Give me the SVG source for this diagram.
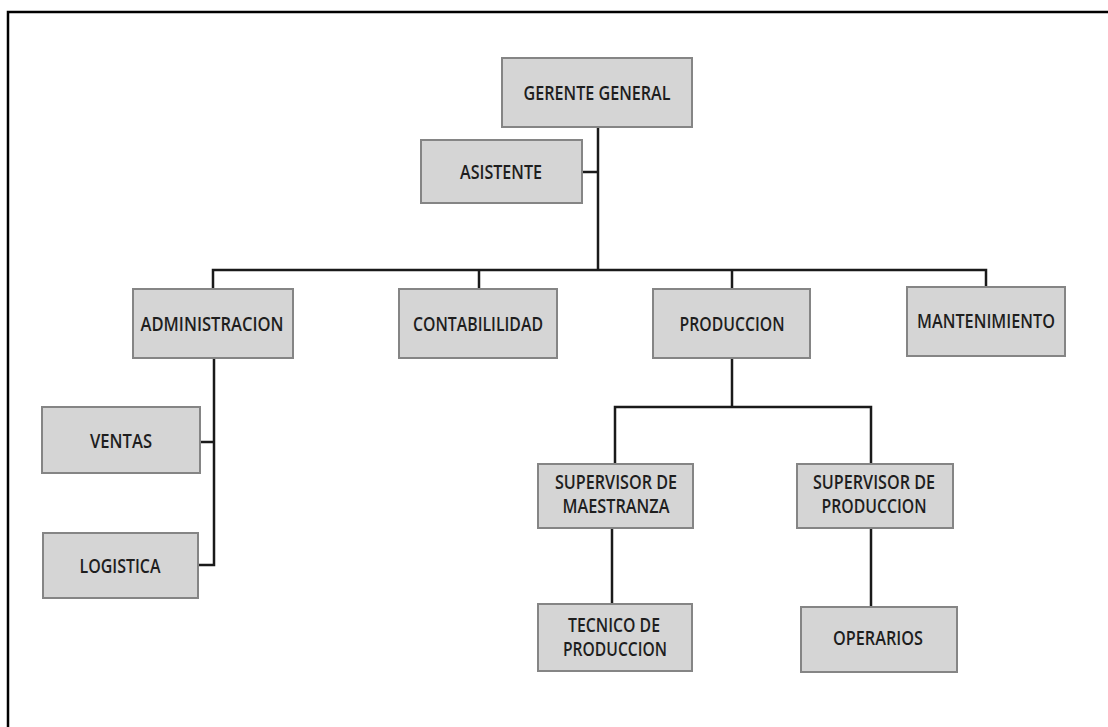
<svg xmlns="http://www.w3.org/2000/svg" width="1108" height="727" viewBox="0 0 1108 727">
<style>
.box{fill:#d5d5d5;stroke:#858585;stroke-width:2}
.lbl{font-family:"Open Sans","Liberation Sans",sans-serif;font-weight:600;font-size:19px;fill:#1e1e1e;text-anchor:middle}
.ln{fill:none;stroke:#1a1a1a;stroke-width:2.5}
</style>
<rect width="1108" height="727" fill="#ffffff"/>
<path d="M8,727 V12 H1108" fill="none" stroke="#000" stroke-width="2.5"/>
<g id="connectors">
<path class="ln" d="M598,127 V270"/>
<path class="ln" d="M582,172 H598"/>
<path class="ln" d="M213,289 V270 H986 V287"/>
<path class="ln" d="M479,270 V289"/>
<path class="ln" d="M732,270 V289"/>
<path class="ln" d="M214,358 V565 H198"/>
<path class="ln" d="M200,442 H214"/>
<path class="ln" d="M732,358 V407"/>
<path class="ln" d="M615,464 V407 H871 V464"/>
<path class="ln" d="M612,528 V604"/>
<path class="ln" d="M871,528 V607"/>
</g>
<g id="gerente"><rect class="box" x="502" y="58" width="190" height="69"/><text class="lbl" x="597" y="100" textLength="147" lengthAdjust="spacingAndGlyphs">GERENTE GENERAL</text></g>
<g id="asistente"><rect class="box" x="421" y="140" width="161" height="63"/><text class="lbl" x="501" y="179" textLength="82" lengthAdjust="spacingAndGlyphs">ASISTENTE</text></g>
<g id="administracion"><rect class="box" x="133" y="289" width="160" height="69"/><text class="lbl" x="212" y="331" textLength="143" lengthAdjust="spacingAndGlyphs">ADMINISTRACION</text></g>
<g id="contabilidad"><rect class="box" x="399" y="289" width="158" height="69"/><text class="lbl" x="478" y="331" textLength="130" lengthAdjust="spacingAndGlyphs">CONTABILILIDAD</text></g>
<g id="produccion"><rect class="box" x="653" y="289" width="157" height="69"/><text class="lbl" x="732" y="331" textLength="105" lengthAdjust="spacingAndGlyphs">PRODUCCION</text></g>
<g id="mantenimiento"><rect class="box" x="907" y="287" width="158" height="69"/><text class="lbl" x="986" y="328" textLength="138" lengthAdjust="spacingAndGlyphs">MANTENIMIENTO</text></g>
<g id="ventas"><rect class="box" x="42" y="407" width="158" height="66"/><text class="lbl" x="121" y="448" textLength="62" lengthAdjust="spacingAndGlyphs">VENTAS</text></g>
<g id="logistica"><rect class="box" x="43" y="533" width="155" height="65"/><text class="lbl" x="120" y="573" textLength="81" lengthAdjust="spacingAndGlyphs">LOGISTICA</text></g>
<g id="sup-maestranza"><rect class="box" x="538" y="464" width="155" height="64"/><text class="lbl" x="616" y="489" textLength="122" lengthAdjust="spacingAndGlyphs">SUPERVISOR DE</text><text class="lbl" x="616" y="513" textLength="107" lengthAdjust="spacingAndGlyphs">MAESTRANZA</text></g>
<g id="sup-produccion"><rect class="box" x="797" y="464" width="156" height="64"/><text class="lbl" x="874" y="489" textLength="122" lengthAdjust="spacingAndGlyphs">SUPERVISOR DE</text><text class="lbl" x="874" y="513" textLength="105" lengthAdjust="spacingAndGlyphs">PRODUCCION</text></g>
<g id="tecnico"><rect class="box" x="538" y="604" width="154" height="67"/><text class="lbl" x="614" y="632" textLength="92" lengthAdjust="spacingAndGlyphs">TECNICO DE</text><text class="lbl" x="615" y="656" textLength="104" lengthAdjust="spacingAndGlyphs">PRODUCCION</text></g>
<g id="operarios"><rect class="box" x="801" y="607" width="156" height="65"/><text class="lbl" x="878" y="645" textLength="90" lengthAdjust="spacingAndGlyphs">OPERARIOS</text></g>
</svg>
